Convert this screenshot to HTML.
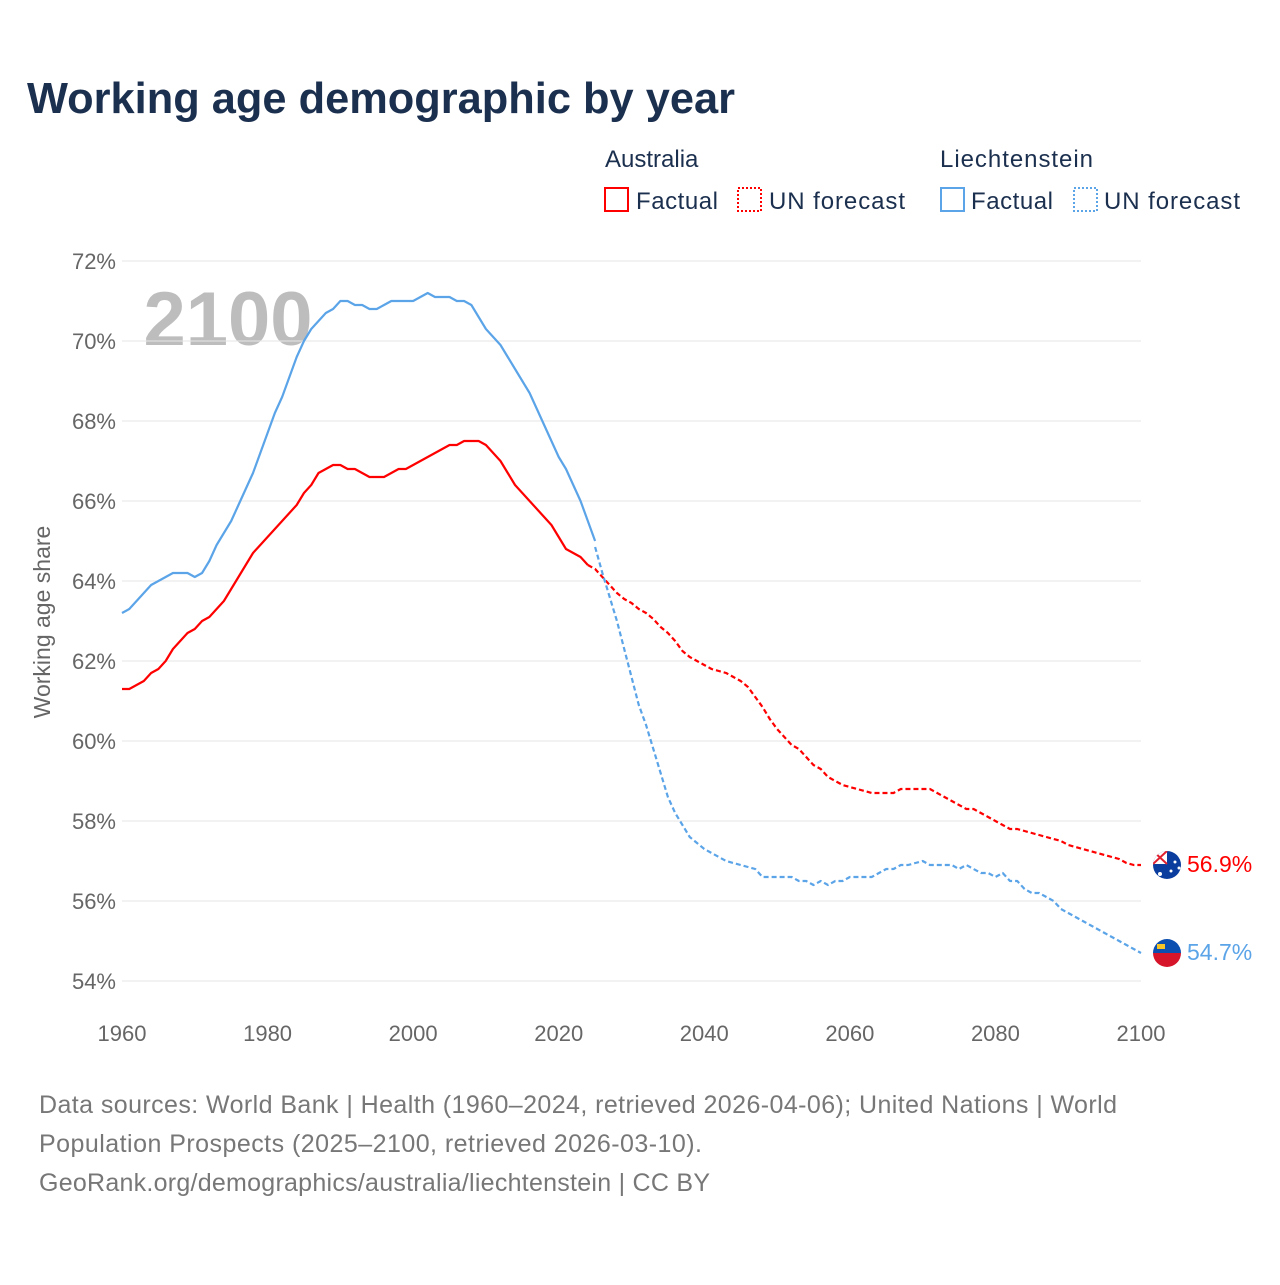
<!DOCTYPE html>
<html><head><meta charset="utf-8"><style>
html,body{margin:0;padding:0;background:#fff;}
body{width:1280px;height:1280px;overflow:hidden;font-family:"Liberation Sans",sans-serif;}
svg text{font-family:"Liberation Sans",sans-serif;}
</style></head><body>
<svg id="chart" width="1280" height="1280" viewBox="0 0 1280 1280">
<text x="27" y="113" font-size="44" font-weight="bold" fill="#1b2f4e" textLength="708" lengthAdjust="spacingAndGlyphs">Working age demographic by year</text>
<g>
<text x="605" y="167" font-size="24" fill="#1b2f4e">Australia</text>
<rect x="605" y="188" width="23" height="23" fill="none" stroke="#ff0000" stroke-width="2"/>
<text x="636" y="209" font-size="24" fill="#1b2f4e" textLength="82">Factual</text>
<rect x="738" y="188" width="23" height="23" fill="none" stroke="#ff0000" stroke-width="2" stroke-dasharray="2,2"/>
<text x="769" y="209" font-size="24" fill="#1b2f4e" textLength="136">UN forecast</text>
<text x="940" y="167" font-size="24" fill="#1b2f4e" textLength="153">Liechtenstein</text>
<rect x="941" y="188" width="23" height="23" fill="none" stroke="#5ba4e8" stroke-width="2"/>
<text x="971" y="209" font-size="24" fill="#1b2f4e" textLength="82">Factual</text>
<rect x="1074" y="188" width="23" height="23" fill="none" stroke="#5ba4e8" stroke-width="2" stroke-dasharray="2,2"/>
<text x="1104" y="209" font-size="24" fill="#1b2f4e" textLength="136">UN forecast</text>
</g>
<text x="228" y="345" font-size="76" font-weight="bold" fill="#bdbdbd" text-anchor="middle">2100</text>
<g id="grid"></g>
<g id="lines"></g>
<text transform="translate(50,622) rotate(-90)" font-size="23" fill="#666" text-anchor="middle">Working age share</text>
<g>
<clipPath id="c1"><circle cx="1167" cy="865" r="14"/></clipPath>
<g clip-path="url(#c1)">
<rect x="1150" y="848" width="34" height="34" fill="#0a3d9e"/>
<rect x="1153" y="851" width="14" height="13" fill="#fff"/>
<path d="M1153 851 L1167 864 M1167 851 L1153 864" stroke="#e0202f" stroke-width="2"/>
<circle cx="1175" cy="862" r="1.5" fill="#fff"/><circle cx="1179" cy="868" r="1.5" fill="#fff"/><circle cx="1171" cy="871" r="1.5" fill="#fff"/><circle cx="1160" cy="874" r="2" fill="#fff"/>
</g>
<clipPath id="c2"><circle cx="1167" cy="953" r="14"/></clipPath>
<g clip-path="url(#c2)">
<rect x="1150" y="936" width="34" height="17" fill="#0b4fb0"/>
<rect x="1150" y="953" width="34" height="17" fill="#d6152b"/>
<rect x="1157" y="944" width="8" height="5" fill="#f5c528"/>
</g>
</g>
<text x="1187" y="872" font-size="23" fill="#ff0000">56.9%</text>
<text x="1187" y="960" font-size="23" fill="#5ba4e8">54.7%</text>
<g>
<text x="39" y="1113" font-size="25" fill="#777" textLength="1078">Data sources: World Bank | Health (1960–2024, retrieved 2026-04-06); United Nations | World</text>
<text x="39" y="1152" font-size="25" fill="#777" textLength="663">Population Prospects (2025–2100, retrieved 2026-03-10).</text>
<text x="39" y="1191" font-size="25" fill="#777" textLength="671">GeoRank.org/demographics/australia/liechtenstein | CC BY</text>
</g>
</svg>
<script>
const yTicks = [54,56,58,60,62,64,66,68,70,72];
const xTicks = [1960,1980,2000,2020,2040,2060,2080,2100];
const factualStart = 1960;
const forecastStart = 2025;
const ausFactual = [61.3,61.3,61.4,61.5,61.7,61.8,62.0,62.3,62.5,62.7,62.8,63.0,63.1,63.3,63.5,63.8,64.1,64.4,64.7,64.9,65.1,65.3,65.5,65.7,65.9,66.2,66.4,66.7,66.8,66.9,66.9,66.8,66.8,66.7,66.6,66.6,66.6,66.7,66.8,66.8,66.9,67.0,67.1,67.2,67.3,67.4,67.4,67.5,67.5,67.5,67.4,67.2,67.0,66.7,66.4,66.2,66.0,65.8,65.6,65.4,65.1,64.8,64.7,64.6,64.4];
const ausForecast = [64.3,64.1,63.9,63.7,63.55,63.45,63.3,63.2,63.05,62.85,62.7,62.5,62.25,62.1,62.0,61.9,61.8,61.75,61.7,61.6,61.5,61.35,61.1,60.85,60.55,60.3,60.1,59.9,59.8,59.6,59.4,59.3,59.1,59.0,58.9,58.85,58.8,58.75,58.7,58.7,58.7,58.7,58.8,58.8,58.8,58.8,58.8,58.7,58.6,58.5,58.4,58.3,58.3,58.2,58.1,58.0,57.9,57.8,57.8,57.75,57.7,57.65,57.6,57.55,57.5,57.4,57.35,57.3,57.25,57.2,57.15,57.1,57.05,56.95,56.9,56.9];
const lieFactual = [63.2,63.3,63.5,63.7,63.9,64.0,64.1,64.2,64.2,64.2,64.1,64.2,64.5,64.9,65.2,65.5,65.9,66.3,66.7,67.2,67.7,68.2,68.6,69.1,69.6,70.0,70.3,70.5,70.7,70.8,71.0,71.0,70.9,70.9,70.8,70.8,70.9,71.0,71.0,71.0,71.0,71.1,71.2,71.1,71.1,71.1,71.0,71.0,70.9,70.6,70.3,70.1,69.9,69.6,69.3,69.0,68.7,68.3,67.9,67.5,67.1,66.8,66.4,66.0,65.5,65.0];
const lieForecast = [64.85,64.2,63.6,63.0,62.3,61.6,60.9,60.4,59.8,59.2,58.6,58.2,57.9,57.6,57.45,57.3,57.2,57.1,57.0,56.95,56.9,56.85,56.8,56.6,56.6,56.6,56.6,56.6,56.5,56.5,56.4,56.5,56.4,56.5,56.5,56.6,56.6,56.6,56.6,56.7,56.8,56.8,56.9,56.9,56.95,57.0,56.9,56.9,56.9,56.9,56.8,56.9,56.8,56.7,56.7,56.6,56.7,56.5,56.5,56.3,56.2,56.2,56.1,56.0,55.8,55.7,55.6,55.5,55.4,55.3,55.2,55.1,55.0,54.9,54.8,54.7];

const NS='http://www.w3.org/2000/svg';
const X0=122,X1=1141,Y0=981,Y1=261;
function xs(yr){return X0+(yr-1960)/(2100-1960)*(X1-X0);}
function ys(v){return Y0-(v-54)/(72-54)*(Y0-Y1);}
const grid=document.getElementById('grid');
yTicks.forEach(function(t){
  const l=document.createElementNS(NS,'line');
  l.setAttribute('x1',X0);l.setAttribute('x2',X1);l.setAttribute('y1',ys(t));l.setAttribute('y2',ys(t));
  l.setAttribute('stroke','#e6e6e6');l.setAttribute('stroke-width','1');
  
  
  grid.appendChild(l);
  const tx=document.createElementNS(NS,'text');
  tx.setAttribute('x',116);tx.setAttribute('y',ys(t)+8);tx.setAttribute('text-anchor','end');
  tx.setAttribute('font-size','22');tx.setAttribute('fill','#666');
  tx.textContent=t+'%';
  
  
  grid.appendChild(tx);
});
xTicks.forEach(function(t){
  const tx=document.createElementNS(NS,'text');
  tx.setAttribute('x',xs(t));tx.setAttribute('y',1041);tx.setAttribute('text-anchor','middle');
  tx.setAttribute('font-size','22');tx.setAttribute('fill','#666');
  tx.textContent=t;
  
  
  grid.appendChild(tx);
});
const lines=document.getElementById('lines');
function draw(vals,start,color,dash,name,prev){
  let pts=[];
  if(prev!==undefined) pts.push(xs(start-1)+','+ys(prev));
  vals.forEach(function(v,i){pts.push(xs(start+i)+','+ys(v));});
  const p=document.createElementNS(NS,'polyline');
  p.setAttribute('points',pts.join(' '));
  p.setAttribute('fill','none');p.setAttribute('stroke',color);p.setAttribute('stroke-width','2.2');
  p.setAttribute('stroke-linejoin','round');
  if(dash)p.setAttribute('stroke-dasharray','5,3');
  
  
  lines.appendChild(p);
}
draw(ausFactual,factualStart,'#ff0000',false,'australia-factual-line');
draw(ausForecast,forecastStart,'#ff0000',true,'australia-forecast-line',ausFactual[ausFactual.length-1]);
draw(lieFactual,factualStart,'#5ba4e8',false,'liechtenstein-factual-line');
draw(lieForecast,forecastStart,'#5ba4e8',true,'liechtenstein-forecast-line');
</script>
</body></html>
